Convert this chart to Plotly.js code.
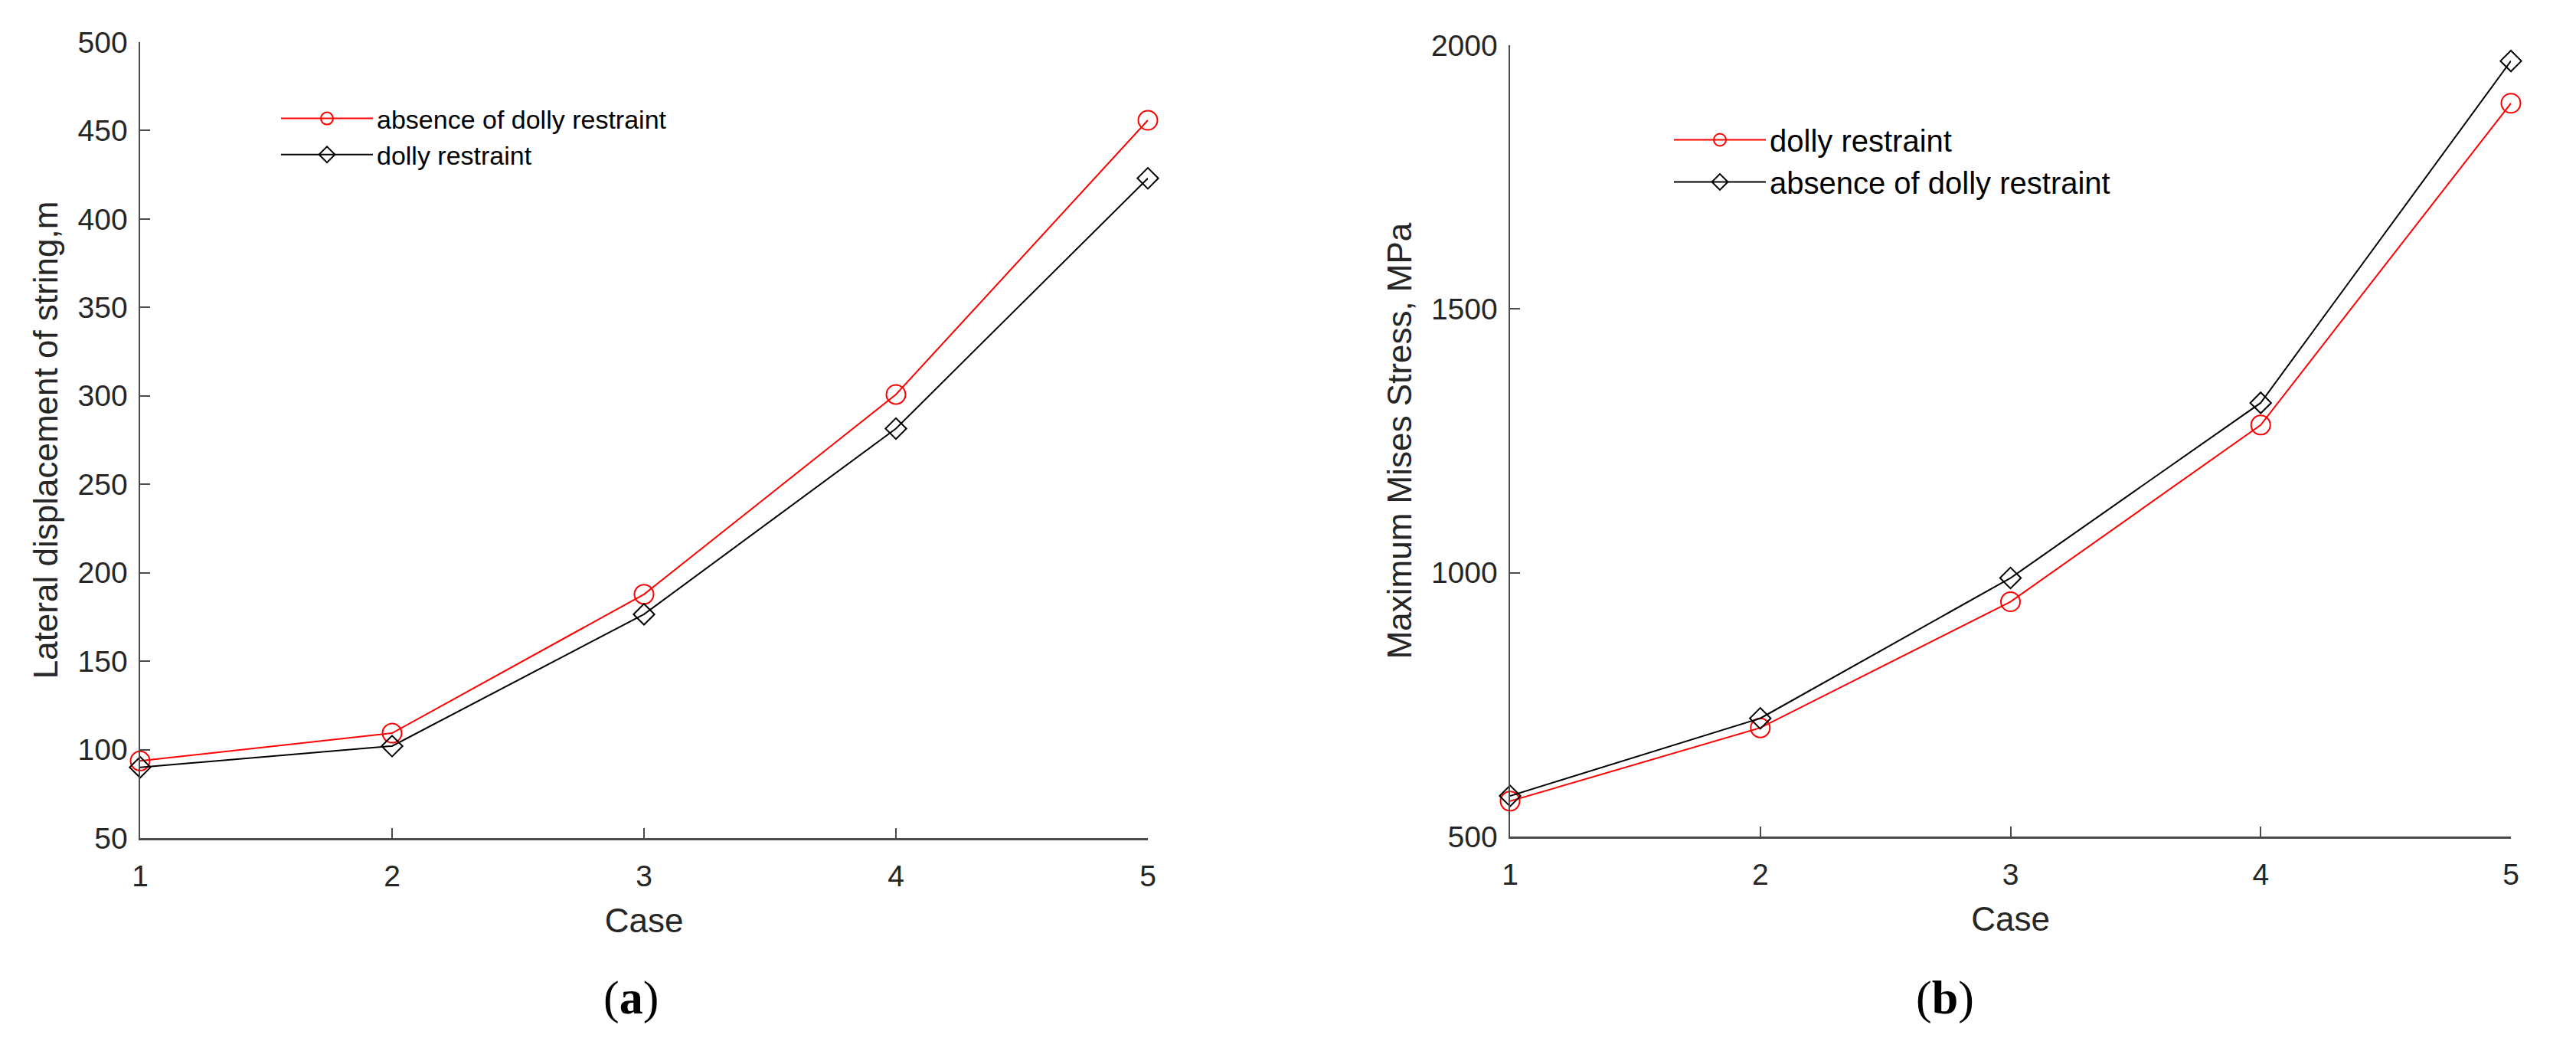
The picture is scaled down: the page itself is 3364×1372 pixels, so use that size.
<!DOCTYPE html>
<html>
<head>
<meta charset="utf-8">
<script src="https://cdn.plot.ly/plotly-3.0.1.min.js"></script>
<style>
  html, body { margin: 0; padding: 0; background: #ffffff; }
  #chart { width: 3364px; height: 1372px; }
</style>
</head>
<body>
<div id="chart"></div>
<script>
// ---- Data ----
const cases = [1, 2, 3, 4, 5];
const caseTickLabels = ['1', '2', '3', '4', '5'];

// (a) Lateral displacement of string, m
const dispAbsenceDolly = [93.6, 109.3, 187.8, 300.8, 455.8];
const dispDollyRestraint = [90.0, 102.0, 176.5, 281.5, 423.0];

// (b) Maximum Mises Stress, MPa
const stressDollyRestraint = [567, 706, 945, 1280, 1890];
const stressAbsenceDolly = [577, 724, 990, 1322, 1970];

const dispTicks = [50, 100, 150, 200, 250, 300, 350, 400, 450, 500];
const stressTicks = [500, 1000, 1500, 2000];

// ---- Styling ----
const W = 3364, H = 1372;
const RED = '#ff0000', BLACK = '#000000';
const AXIS = '#4a4a4a', TEXT = '#262626';
const SANS = 'Liberation Sans, Arial, sans-serif';
const NARROW = 'Liberation Sans Narrow, Arial Narrow, Liberation Sans, sans-serif';

function px2x(p) { return p / W; }
function py2y(p) { return 1 - p / H; }

const circleMarker = { symbol: 'circle-open', size: 25, color: RED, line: { color: RED, width: 2 } };
const diamondMarker = { symbol: 'diamond-open', size: 21, color: BLACK, line: { color: BLACK, width: 2 } };

const traces = [
  {
    x: cases, y: dispAbsenceDolly, name: 'absence of dolly restraint',
    type: 'scatter', mode: 'lines+markers', xaxis: 'x', yaxis: 'y', legend: 'legend',
    line: { color: RED, width: 2 }, marker: circleMarker, cliponaxis: false
  },
  {
    x: cases, y: dispDollyRestraint, name: 'dolly restraint',
    type: 'scatter', mode: 'lines+markers', xaxis: 'x', yaxis: 'y', legend: 'legend',
    line: { color: BLACK, width: 2 }, marker: diamondMarker, cliponaxis: false
  },
  {
    x: cases, y: stressDollyRestraint, name: 'dolly restraint',
    type: 'scatter', mode: 'lines+markers', xaxis: 'x2', yaxis: 'y2', legend: 'legend2',
    line: { color: RED, width: 2 }, marker: circleMarker, cliponaxis: false
  },
  {
    x: cases, y: stressAbsenceDolly, name: 'absence of dolly restraint',
    type: 'scatter', mode: 'lines+markers', xaxis: 'x2', yaxis: 'y2', legend: 'legend2',
    line: { color: BLACK, width: 2 }, marker: diamondMarker, cliponaxis: false
  }
];

function xAxis(domain, anchor) {
  return {
    domain: domain, anchor: anchor, range: [1, 5],
    tickmode: 'array', tickvals: cases, ticktext: caseTickLabels,
    showline: true, linecolor: AXIS, linewidth: 2.5, mirror: false,
    ticks: 'inside', ticklen: 13, tickwidth: 2, tickcolor: AXIS,
    showgrid: false, zeroline: false,
    tickfont: { family: SANS, size: 39, color: TEXT },
    ticklabelstandoff: 14,
    title: { text: 'Case', font: { family: SANS, size: 44, color: TEXT }, standoff: 22 },
    fixedrange: true
  };
}
function yAxis(domain, anchor, range, ticks, title) {
  return {
    domain: domain, anchor: anchor, range: range,
    tickmode: 'array', tickvals: ticks, ticktext: ticks.map(String),
    showline: true, linecolor: AXIS, linewidth: 2.5, mirror: false,
    ticks: 'inside', ticklen: 13, tickwidth: 2, tickcolor: AXIS,
    showgrid: false, zeroline: false,
    tickfont: { family: SANS, size: 39, color: TEXT },
    ticklabelstandoff: 6,
    title: { text: title, font: { family: SANS, size: 44, color: TEXT }, standoff: 12 },
    fixedrange: true
  };
}

const layout = {
  width: W, height: H,
  margin: { l: 0, r: 0, t: 0, b: 0 },
  paper_bgcolor: '#ffffff', plot_bgcolor: '#ffffff',
  showlegend: true,
  xaxis: xAxis([px2x(183), px2x(1499)], 'y'),
  yaxis: yAxis([py2y(1094), py2y(55)], 'x', [50, 500], dispTicks, 'Lateral displacement of string,m'),
  xaxis2: xAxis([px2x(1972), px2x(3279)], 'y2'),
  yaxis2: yAxis([py2y(1092), py2y(59)], 'x2', [500, 2000], stressTicks, 'Maximum Mises Stress, MPa'),
  legend: {
    x: px2x(362), y: py2y(126), xanchor: 'left', yanchor: 'top',
    bgcolor: 'rgba(0,0,0,0)', borderwidth: 0,
    font: { family: NARROW, size: 34, color: BLACK },
    itemwidth: 120, tracegroupgap: 0
  },
  legend2: {
    x: px2x(2181), y: py2y(150), xanchor: 'left', yanchor: 'top',
    bgcolor: 'rgba(0,0,0,0)', borderwidth: 0,
    font: { family: NARROW, size: 40, color: BLACK },
    itemwidth: 120, tracegroupgap: 0
  },
  annotations: [
    { text: '(<b>a</b>)', xref: 'paper', yref: 'paper', x: px2x(824), y: py2y(1302),
      xanchor: 'center', yanchor: 'middle', showarrow: false,
      font: { family: 'Liberation Serif, DejaVu Serif, serif', size: 62, color: BLACK } },
    { text: '(<b>b</b>)', xref: 'paper', yref: 'paper', x: px2x(2540), y: py2y(1302),
      xanchor: 'center', yanchor: 'middle', showarrow: false,
      font: { family: 'Liberation Serif, DejaVu Serif, serif', size: 62, color: BLACK } }
  ]
};

Plotly.newPlot('chart', traces, layout, { staticPlot: true, displayModeBar: false });
</script>
</body>
</html>
